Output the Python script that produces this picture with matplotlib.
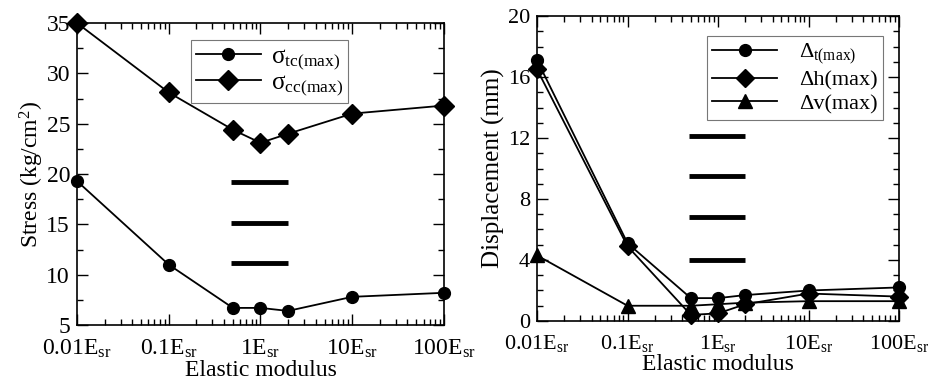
import numpy as np
import matplotlib
matplotlib.use('Agg')
import matplotlib.pyplot as plt
from matplotlib.ticker import FixedLocator, LogLocator, MultipleLocator, NullFormatter

plt.rcParams['font.family'] = ['Liberation Serif', 'DejaVu Serif']
plt.rcParams['mathtext.fontset'] = 'custom'
plt.rcParams['mathtext.rm'] = 'Liberation Serif'
plt.rcParams['mathtext.it'] = 'Liberation Serif:italic'
plt.rcParams['mathtext.sf'] = 'Liberation Serif'

# datos
modulus = [0.01, 0.1, 0.5, 1.0, 2.0, 10.0, 100.0]
xtick_vals = [0.01, 0.1, 1, 10, 100]
xtick_labels = [r'0.01E$_{\rm sr}$', r'0.1E$_{\rm sr}$', r'1E$_{\rm sr}$',
                r'10E$_{\rm sr}$', r'100E$_{\rm sr}$']

sigma_tc = [19.3, 11.0, 6.7, 6.7, 6.4, 7.8, 8.2]
sigma_cc = [35.0, 28.1, 24.4, 23.1, 24.0, 26.0, 26.8]

delta_t = [17.1, 5.1, 1.5, 1.5, 1.7, 2.0, 2.2]
delta_h = [16.5, 4.9, 0.4, 0.5, 1.1, 1.8, 1.6]
delta_v = [4.3, 1.0, 1.0, 1.1, 1.2, 1.3, 1.3]

# barras negras en el centro de cada panel
bars_left_y = [19.2, 15.1, 11.2]
bars_right_y = [12.1, 9.5, 6.8, 4.0]
bars_x = [0.48, 2.0]

fig = plt.figure(figsize=(9.49, 3.83), dpi=100)
ax1 = fig.add_axes([0.0811, 0.1514, 0.3867, 0.7885])
ax2 = fig.add_axes([0.5659, 0.1619, 0.3815, 0.7963])


def style_axis(ax, ymin, ymax, ymajor, yminor, fs):
    ax.set_xscale('log')
    ax.set_xlim(0.01, 100)
    ax.set_ylim(ymin, ymax)
    ax.xaxis.set_major_locator(FixedLocator(xtick_vals))
    ax.set_xticklabels(xtick_labels)
    ax.xaxis.set_minor_locator(LogLocator(base=10, subs=np.arange(2, 10)))
    ax.xaxis.set_minor_formatter(NullFormatter())
    ax.yaxis.set_major_locator(MultipleLocator(ymajor))
    ax.yaxis.set_minor_locator(MultipleLocator(yminor))
    ax.tick_params(which='both', direction='in', top=True, right=True,
                   labelsize=fs, width=1.0)
    ax.tick_params(which='major', length=8)
    ax.tick_params(which='minor', length=4)
    ax.tick_params(axis='x', which='major', pad=9)
    ax.tick_params(axis='y', which='major', pad=5)
    for s in ax.spines.values():
        s.set_linewidth(1.2)
    ax.set_xlabel('Elastic modulus', fontsize=17, labelpad=0)


# panel izquierdo: esfuerzos
ax1.plot(modulus, sigma_tc, '-o', color='black', lw=1.3, ms=8.5,
         label=r'σ$_{\rm tc(max)}$', clip_on=False)
ax1.plot(modulus, sigma_cc, '-D', color='black', lw=1.3, ms=10,
         label=r'σ$_{\rm cc(max)}$', clip_on=False)
for y in bars_left_y:
    ax1.hlines(y, bars_x[0], bars_x[1], color='black', lw=3.5)
style_axis(ax1, 5, 35, 5, 2.5, 17)
ax1.set_ylabel(r'Stress (kg/cm$^2$)', fontsize=17, labelpad=0)
leg1 = ax1.legend(loc='upper left', bbox_to_anchor=(0.31, 0.944), fontsize=18,
                  handlelength=2.6, frameon=True, fancybox=False, borderaxespad=0,
                  borderpad=0.2, labelspacing=0.0, handletextpad=0.4)
leg1.get_frame().set_edgecolor('#555555')
leg1.get_frame().set_linewidth(0.8)

# panel derecho: desplazamientos
ax2.plot(modulus, delta_t, '-o', color='black', lw=1.3, ms=8.5,
         label=r'Δ$_{\rm t(max)}$', clip_on=False)
ax2.plot(modulus, delta_h, '-D', color='black', lw=1.3, ms=9,
         label='Δh(max)', clip_on=False)
ax2.plot(modulus, delta_v, '-^', color='black', lw=1.3, ms=10,
         label='Δv(max)', clip_on=False)
for y in bars_right_y:
    ax2.hlines(y, bars_x[0], bars_x[1], color='black', lw=3.5)
style_axis(ax2, 0, 20, 4, 1, 16)
ax2.set_ylabel('Displacement (mm)', fontsize=18, labelpad=2)
leg2 = ax2.legend(loc='upper right', bbox_to_anchor=(0.956, 0.934), fontsize=16,
                  handlelength=2.9, frameon=True, fancybox=False, borderaxespad=0,
                  borderpad=0.25, labelspacing=0.15, handletextpad=1.0)
leg2.get_frame().set_edgecolor('#555555')
leg2.get_frame().set_linewidth(0.8)

fig.savefig('out.png', dpi=100)
